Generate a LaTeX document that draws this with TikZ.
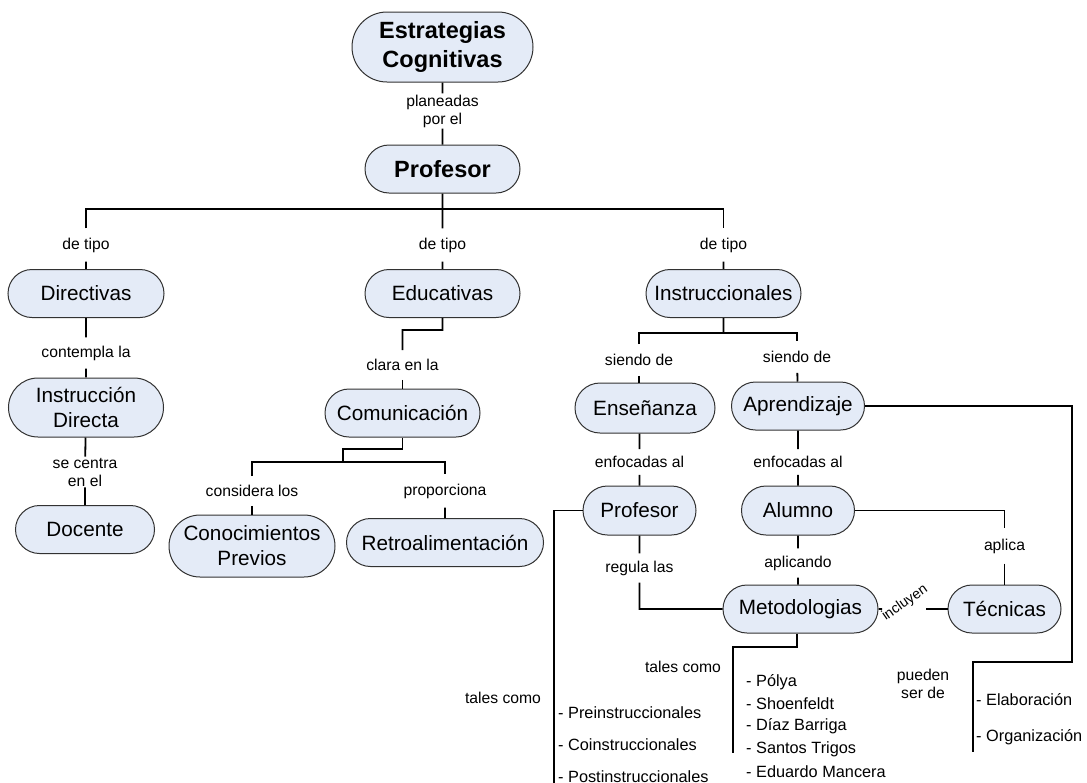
\documentclass[tikz,border=0pt]{standalone}
\usepackage{fontspec}
\setmainfont{Liberation Sans}
\usetikzlibrary{shapes.misc}
\definecolor{nodefill}{RGB}{228,235,247}
\definecolor{nodedraw}{RGB}{50,50,50}
\tikzset{
 cnode/.style={rounded rectangle, draw=nodedraw, line width=1pt, fill=nodefill, inner sep=0pt,
   minimum height=48pt, font=\fontsize{20.7}{25}\selectfont, align=center},
 bnode/.style={cnode, font=\fontsize{23.5}{29}\selectfont\bfseries},
 lbl/.style={inner xsep=2pt, inner ysep=6pt, font=\fontsize{15.7}{18}\selectfont, align=center},
 tight/.style={inner ysep=1pt},
 lst/.style={anchor=west, inner sep=0pt, font=\fontsize{16.3}{19}\selectfont},
 conn/.style={line width=1.8pt, black},
}
\begin{document}
\begin{tikzpicture}[x=1pt,y=-1pt]
\useasboundingbox (0,0) rectangle (1087,782);
% main nodes
\node[bnode, minimum width=181pt, minimum height=70pt] (est) at (442.5,47) {Estrategias\\Cognitivas};
\node[bnode, minimum width=155pt] (prof) at (442.5,169) {Profesor};
\node[cnode, minimum width=156pt] (dir) at (86,293.5) {Directivas};
\node[cnode, minimum width=155pt] (edu) at (442.5,293.5) {Educativas};
\node[cnode, minimum width=155pt] (ins) at (723.5,293.5) {Instruccionales};
\node[cnode, minimum width=155pt, minimum height=59pt] (idir) at (86,407.5) {Instrucción\\Directa};
\node[cnode, minimum width=139pt] (doc) at (85,529.5) {Docente};
\node[cnode, minimum width=155pt] (com) at (402.5,413) {Comunicación};
\node[cnode, minimum width=166pt, minimum height=62pt] (con) at (252,546) {Conocimientos\\Previos};
\node[cnode, minimum width=197pt] (ret) at (445,542.5) {Retroalimentación};
\node[cnode, minimum width=140pt, minimum height=50pt] (ens) at (645,408) {Enseñanza};
\node[cnode, minimum width=133pt] (apr) at (798,406) {Aprendizaje};
\node[cnode, minimum width=113pt, minimum height=49pt] (prof2) at (639.5,510.5) {Profesor};
\node[cnode, minimum width=113pt, minimum height=49pt] (alu) at (798,510.5) {Alumno};
\node[cnode, minimum width=155pt] (met) at (800.5,609) {Metodologias};
\node[cnode, minimum width=113pt] (tec) at (1004.5,609) {Técnicas};
% labels
\node[lbl, tight] (l1) at (442.5,111) {planeadas\\por el};
\node[lbl, inner ysep=9pt] (ld1) at (86,245) {de tipo};
\node[lbl, inner ysep=9pt] (ld2) at (442.5,245) {de tipo};
\node[lbl, inner ysep=9pt] (ld3) at (723.5,245) {de tipo};
\node[lbl, inner ysep=8pt] (l2) at (86,353) {contempla la};
\node[lbl, tight] (l3) at (85,472) {se centra\\en el};
\node[lbl, inner ysep=9pt] (l4) at (402.5,365) {clara en la};
\node[lbl, inner ysep=9pt] (l5) at (252,491) {considera los};
\node[lbl, inner ysep=9pt] (l6) at (445,491) {proporciona};
\node[lbl, inner ysep=10pt] (l7) at (639,360) {siendo de};
\node[lbl, inner ysep=10pt] (l8) at (797,357) {siendo de};
\node[lbl, inner ysep=7pt] (l9) at (639.5,462) {enfocadas al};
\node[lbl, inner ysep=7pt] (l10) at (798,462) {enfocadas al};
\node[lbl, inner ysep=7pt] (l11) at (639.5,568) {regula las};
\node[lbl, inner ysep=7pt] (l12) at (798,563) {aplicando};
\node[lbl, inner ysep=10pt] (l13) at (1004.5,546) {aplica};
\node[rotate=35, inner sep=0pt, font=\fontsize{14.2}{16}\selectfont] (l14) at (905,603) {incluyen};
\node[lbl] (t1) at (503,698) {tales como};
\node[lbl] (t2) at (683,667) {tales como};
\node[lbl, align=center] (t3) at (923,684) {pueden\\ser de};
% connector coordinates
\coordinate (bus) at (442.5,209);
\coordinate (e1) at (442.5,330);
\coordinate (c1) at (402.5,449);
\coordinate (c2) at (343,462);
\coordinate (i1) at (723.5,333);
\coordinate (ia) at (882,609);
\coordinate (ib) at (926,609);
\coordinate (r1) at (1072,662);
\coordinate (r2) at (973,752);
\coordinate (p1) at (554,795);
\coordinate (m1) at (797,647);
\coordinate (m2) at (733,753);
% connectors
\draw[conn] (est) -- (l1) -- (prof);
\draw[conn] (prof) -- (ld2);
\draw[conn] (ld1) |- (bus) -| (ld3);
\draw[conn] (ld1) -- (dir);
\draw[conn] (ld2) -- (edu);
\draw[conn] (ld3) -- (ins);
\draw[conn] (dir) -- (l2) -- (idir);
\draw[conn] (idir) -- (l3) -- (doc);
\draw[conn] (edu) -- (e1) -| (l4);
\draw[conn] (l4) -- (com);
\draw[conn] (com) -- (c1) -| (c2);
\draw[conn] (l5) |- (c2) -| (l6);
\draw[conn] (l5) -- (con);
\draw[conn] (l6) -- (ret);
\draw[conn] (ins) -- (i1);
\draw[conn] (l7) |- (i1) -| (l8);
\draw[conn] (l7) -- (l7 |- ens.north);
\draw[conn] (l8) -- (apr);
\draw[conn] (l9 |- ens.south) -- (l9) -- (prof2);
\draw[conn] (apr) -- (l10) -- (alu);
\draw[conn] (prof2) -- (l11) |- (met);
\draw[conn] (alu) -- (l12) -- (l12 |- met.north);
\draw[conn] (alu) -| (l13) -- (tec);
\draw[conn] (met) -- (ia);
\draw[conn] (ib) -- (tec);
\draw[conn] (apr) -| (r1) -| (r2);
\draw[conn] (prof2) -| (p1);
\draw[conn] (m1 |- met.south) -- (m1) -| (m2);
% lists
\node[lst] (a1) at (558,713) {- Preinstruccionales};
\node[lst] (a2) at (558,745) {- Coinstruccionales};
\node[lst] (a3) at (558,777) {- Postinstruccionales};
\node[lst] (b1) at (746,682) {- Pólya};
\node[lst] (b2) at (746,704) {- Shoenfeldt};
\node[lst] (b3) at (746,726) {- Díaz Barriga};
\node[lst] (b4) at (746,749) {- Santos Trigos};
\node[lst] (b5) at (746,772) {- Eduardo Mancera};
\node[lst] (c1l) at (976,700) {- Elaboración};
\node[lst] (c2l) at (976,737) {- Organización};
\end{tikzpicture}
\end{document}
